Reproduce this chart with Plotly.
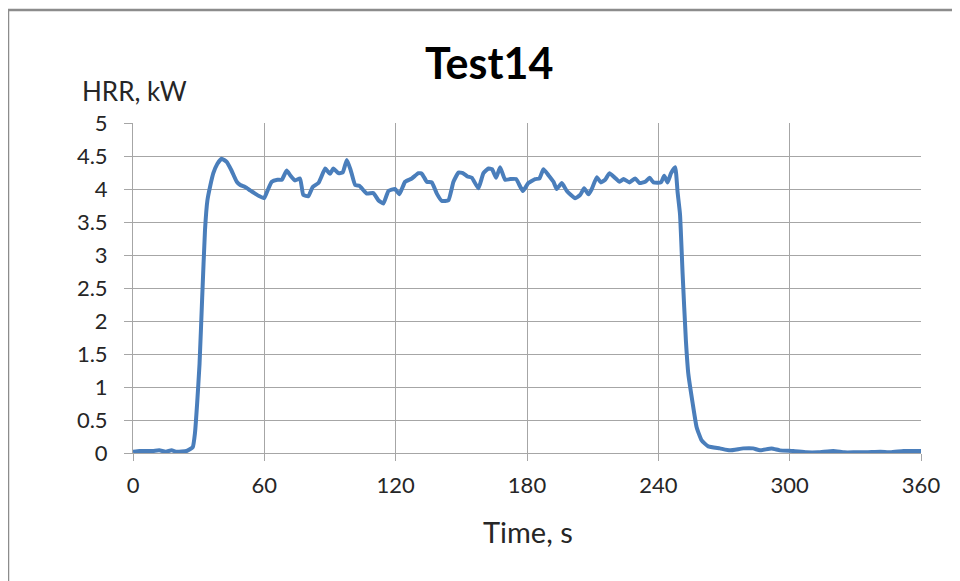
import plotly.graph_objects as go

time_s = [0, 3, 6, 9, 12, 15, 17.6, 19.9, 24.5, 27.3, 28.3, 29.3, 30.4, 31.6, 32.9, 34,
          35.3, 36.7, 38.5, 40.5, 42.8, 45, 47.4, 49, 51.2, 53.5, 55.8, 57.8, 59.9,
          61.5, 63.4, 66, 68, 70.2, 72, 74, 76.3, 77.8, 80.1, 82.1, 84.7, 86, 87.8,
          90, 91.5, 93.8, 95.8, 97.7, 99.5, 101.5, 103.4, 106.8, 109.8, 112.1, 114.4,
          116.7, 119.7, 121.7, 124.3, 127.4, 130.4, 132, 134.2, 136.5, 138.8, 141.1,
          144.1, 146.4, 148.7, 150.7, 152.8, 154.8, 157.8, 160.1, 162.4, 164, 165.9,
          167.7, 170, 172.3, 175, 178.1, 180.6, 183.7, 185.7, 187.5, 189.8, 192.1,
          193.6, 195.9, 198.2, 202, 204.3, 206.1, 208.1, 209.6, 211.9, 213.7, 215.7,
          217.7, 219.8, 222.3, 224.1, 226.8, 229.4, 231.4, 234, 236, 237.8, 241.2,
          242.7, 244.2, 245.8, 247.7, 248.8, 249.9, 251.1, 252.6, 253.7, 255.7, 257.5,
          259.8, 262.8, 268.1, 272.7, 278.8, 283.3, 286.4, 291.7, 295.5, 301.6, 307.7,
          313, 319.9, 325, 330, 335, 341.4, 346, 352, 356, 360]

hrr_kw = [0.02, 0.03, 0.03, 0.03, 0.04, 0.02, 0.04, 0.02, 0.03, 0.09, 0.3, 0.75, 1.35, 2.35, 3.38, 3.83,
          4.05, 4.24, 4.38, 4.46, 4.41, 4.28, 4.11, 4.06, 4.03, 3.98, 3.93, 3.89, 3.86,
          3.98, 4.11, 4.14, 4.14, 4.28, 4.2, 4.13, 4.16, 3.91, 3.89, 4.03, 4.09, 4.18, 4.31,
          4.23, 4.31, 4.24, 4.25, 4.44, 4.28, 4.06, 4.05, 3.93, 3.94, 3.83, 3.78,
          3.97, 4.0, 3.92, 4.11, 4.16, 4.24, 4.23, 4.11, 4.10, 3.93, 3.82,
          3.83, 4.11, 4.25, 4.24, 4.19, 4.17, 4.01, 4.24, 4.31, 4.30, 4.17,
          4.33, 4.14, 4.15, 4.15, 3.97, 4.09, 4.15, 4.16, 4.30, 4.21, 4.11,
          4.0, 4.09, 3.97, 3.86, 3.91, 4.01, 3.92, 4.0, 4.18, 4.10, 4.14,
          4.24, 4.18, 4.11, 4.15, 4.10, 4.16, 4.09, 4.11, 4.17, 4.10, 4.10,
          4.20, 4.10, 4.24, 4.33, 3.95, 3.62, 2.71, 1.70, 1.20, 0.75, 0.39,
          0.19, 0.10, 0.07, 0.04, 0.07, 0.07, 0.04, 0.07, 0.04, 0.03, 0.01,
          0.01, 0.03, 0.01, 0.01, 0.01, 0.02, 0.01, 0.03, 0.03, 0.03]

x_ticks = [0, 60, 120, 180, 240, 300, 360]
y_ticks = [0, 0.5, 1, 1.5, 2, 2.5, 3, 3.5, 4, 4.5, 5]
y_tick_text = ["0", "0.5", "1", "1.5", "2", "2.5", "3", "3.5", "4", "4.5", "5"]

# page body has an 8px margin; figure sized to fill the rest of the window
OFF = 8
W, H = 960 - OFF, 581 - OFF
PL, PR, PT, PB = 133, 921, 123, 453          # plot area in page pixels
L, T = PL - OFF, PT - OFF
R, B = W - (PR - OFF), H - (PB - OFF)
pw, ph = PR - PL, PB - PT

def px(xp):
    return (xp - PL) / pw

def py(yp):
    return (PB - yp) / ph

font_family = "Lato, 'Open Sans', sans-serif"
grid = "#a6a6a6"
txt = "#262626"

fig = go.Figure()
fig.add_trace(go.Scatter(x=time_s, y=hrr_kw, mode="lines",
                         line=dict(color="#4a7ebb", width=4, shape="spline", smoothing=0.4),
                         showlegend=False, hoverinfo="skip"))

fig.update_layout(
    width=W, height=H,
    margin=dict(l=L, r=R, t=T, b=B),
    paper_bgcolor="white", plot_bgcolor="white",
    font=dict(family=font_family, color=txt, size=22),
    xaxis=dict(range=[0, 360], tickvals=x_ticks, showgrid=True, gridcolor=grid, gridwidth=1,
               showline=True, linecolor=grid, linewidth=1, zeroline=False,
               ticks="outside", ticklen=7, tickcolor=grid, tickwidth=1,
               ticklabelstandoff=6,
               tickfont=dict(size=22, family=font_family, color=txt),
               fixedrange=True),
    yaxis=dict(range=[0, 5], tickvals=y_ticks, ticktext=y_tick_text, showgrid=True,
               gridcolor=grid, gridwidth=1, showline=True, linecolor=grid, linewidth=1,
               zeroline=False, ticks="outside", ticklen=8, tickcolor=grid, tickwidth=1,
               ticklabelstandoff=12,
               tickfont=dict(size=22, family=font_family, color=txt),
               fixedrange=True),
    shapes=[dict(type="rect", xref="paper", yref="paper",
                 x0=px(8), x1=px(975), y0=py(600), y1=py(10),
                 line=dict(color="#8c8c8c", width=2.5), fillcolor="rgba(0,0,0,0)", layer="below")],
    annotations=[
        dict(text="<b>Test14</b>", xref="paper", yref="paper", x=px(489), y=py(62),
             xanchor="center", yanchor="middle", showarrow=False,
             font=dict(size=43, family=font_family, color="#000000")),
        dict(text="HRR, kW", xref="paper", yref="paper", x=px(80), y=py(91),
             xanchor="left", yanchor="middle", showarrow=False,
             font=dict(size=26, family=font_family, color=txt)),
        dict(text="Time, s", xref="paper", yref="paper", x=px(528), y=py(531),
             xanchor="center", yanchor="middle", showarrow=False,
             font=dict(size=29, family=font_family, color=txt)),
    ],
)

fig.write_html("out.html")
